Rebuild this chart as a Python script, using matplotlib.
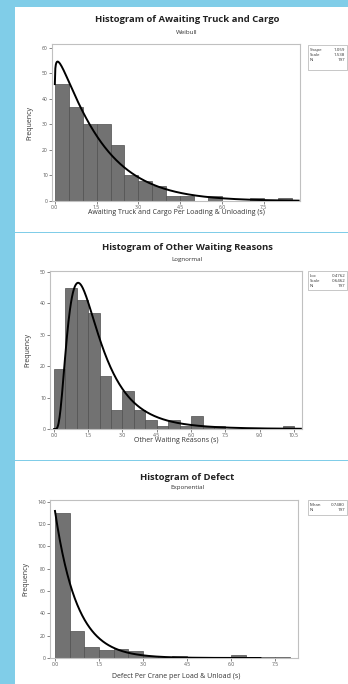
import numpy as np
import matplotlib
matplotlib.use("Agg")
import matplotlib.pyplot as plt
from matplotlib.patches import Rectangle

plt.rcParams['font.family'] = ['Open Sans', 'DejaVu Sans']

W, H = 348, 684

# histogram counts, bin width 0.5 starting at 0
truck_counts = [46, 37, 30, 30, 22, 10, 8, 6, 2, 2, 0, 2, 0, 0, 1, 0, 1]
other_counts = [19, 45, 41, 37, 17, 6, 12, 6, 3, 1, 3, 1, 4, 1, 1, 0, 0, 0, 0, 0, 1]
defect_counts = [130, 24, 10, 7, 8, 6, 2, 1, 2, 0, 1, 1, 3, 0, 1, 1]
bin_width = 0.5

# fitted distribution parameters shown in the legend boxes
weibull_shape, weibull_scale = 1.059, 1.538
lognorm_loc, lognorm_scale = 0.4762, 0.6462
expo_mean = 0.7480
n_obs = 197

titles = ["Histogram of Awaiting Truck and Cargo",
          "Histogram of Other Waiting Reasons",
          "Histogram of Defect"]
subtitles = ["Weibull", "Lognormal", "Exponential"]
xlabels = ["Awaiting Truck and Cargo Per Loading & Unloading (s)",
           "Other Waiting Reasons (s)",
           "Defect Per Crane per Load & Unload (s)"]
xticks_list = [[0.0, 1.5, 3.0, 4.5, 6.0, 7.5],
               [0.0, 1.5, 3.0, 4.5, 6.0, 7.5, 9.0, 10.5],
               [0.0, 1.5, 3.0, 4.5, 6.0, 7.5]]
yticks_list = [list(range(0, 61, 10)), list(range(0, 51, 10)), list(range(0, 141, 20))]
stats_rows = [[("Shape", "1.059"), ("Scale", "1.538"), ("N", "197")],
              [("Loc", "0.4762"), ("Scale", "0.6462"), ("N", "197")],
              [("Mean", "0.7480"), ("N", "197")]]


def weibull_pdf(x):
    z = x / weibull_scale
    return (weibull_shape / weibull_scale) * z ** (weibull_shape - 1) * np.exp(-z ** weibull_shape)


def lognorm_pdf(x):
    return np.exp(-(np.log(x) - lognorm_loc) ** 2 / (2 * lognorm_scale ** 2)) / (x * lognorm_scale * np.sqrt(2 * np.pi))


def expo_pdf(x):
    return np.exp(-x / expo_mean) / expo_mean


def rect(l, t, r, b):
    return [l / W, 1 - b / H, (r - l) / W, (b - t) / H]


fig = plt.figure(figsize=(W / 100, H / 100), dpi=100)
fig.patch.set_facecolor('#80cde8')

# white panels behind everything
panel_bounds = [(7, 232), (233, 460), (461, 684)]
for top, bot in panel_bounds:
    fig.patches.append(Rectangle((15 / W, 1 - bot / H), 1, (bot - top) / H,
                                 transform=fig.transFigure, facecolor='white',
                                 edgecolor='none', zorder=-10))

layouts = [
    dict(box=(52, 44, 300, 201), xlim=(-0.1, 8.8), ylim=(0, 61.5), title_y=20, sub_y=33, xl_y=213,
         curve=(weibull_pdf, 0.002, 8.75), counts=truck_counts, stat=(308, 45, 70)),
    dict(box=(50, 271, 302, 429), xlim=(-0.17, 10.85), ylim=(0, 50.3), title_y=248, sub_y=260, xl_y=441,
         curve=(lognorm_pdf, 0.01, 10.8), counts=other_counts, stat=(308, 271, 290)),
    dict(box=(50, 500, 298, 658), xlim=(-0.17, 8.28), ylim=(0, 141.5), title_y=477, sub_y=488, xl_y=676,
         curve=(expo_pdf, 0.0, 7.0), counts=defect_counts, stat=(308, 500, 515)),
]

for i, lay in enumerate(layouts):
    ax = fig.add_axes(rect(*lay['box']))
    ax.set_facecolor('white')
    counts = np.array(lay['counts'])
    edges = np.arange(len(counts)) * bin_width
    ax.bar(edges, counts, width=bin_width, align='edge', color='#727272',
           edgecolor='#4f4f4f', linewidth=0.5, zorder=2)
    pdf, x0, x1 = lay['curve']
    xs = np.linspace(x0, x1, 500)
    ax.plot(xs, pdf(xs) * n_obs * bin_width, color='black', lw=1.4, zorder=3)
    ax.set_xlim(*lay['xlim'])
    ax.set_ylim(*lay['ylim'])
    ax.set_xticks(xticks_list[i])
    ax.set_xticklabels([f"{t:.1f}" for t in xticks_list[i]])
    ax.set_yticks(yticks_list[i])
    ax.tick_params(labelsize=3.6, colors='#555555', length=2, width=0.5, pad=1)
    for s in ax.spines.values():
        s.set_color('#c0c0c0')
        s.set_linewidth(0.8)
    ax.set_ylabel("Frequency", fontsize=5, color='#333333', labelpad=6)

    fig.text(187 / W, 1 - lay['title_y'] / H, titles[i], ha='center', va='center',
             fontsize=6.8, fontweight='bold', color='#222222')
    fig.text(187 / W, 1 - lay['sub_y'] / H, subtitles[i], ha='center', va='center',
             fontsize=4.5, color='#333333')
    fig.text(176 / W, 1 - lay['xl_y'] / H, xlabels[i], ha='center', va='center',
             fontsize=5, color='#333333')

    # stats box
    bx, bt, bb = lay['stat']
    fig.patches.append(Rectangle((bx / W, 1 - bb / H), 39 / W, (bb - bt) / H,
                                 transform=fig.transFigure, facecolor='white',
                                 edgecolor='#b0b0b0', linewidth=0.5))
    for j, (lab, val) in enumerate(stats_rows[i]):
        yy = bt + 4.8 + 5.3 * j
        fig.text((bx + 2) / W, 1 - yy / H, lab, ha='left', va='center', fontsize=3.2, color='#333333')
        fig.text((bx + 37) / W, 1 - yy / H, val, ha='right', va='center', fontsize=3.2, color='#333333')

fig.savefig("out.png", dpi=100)
